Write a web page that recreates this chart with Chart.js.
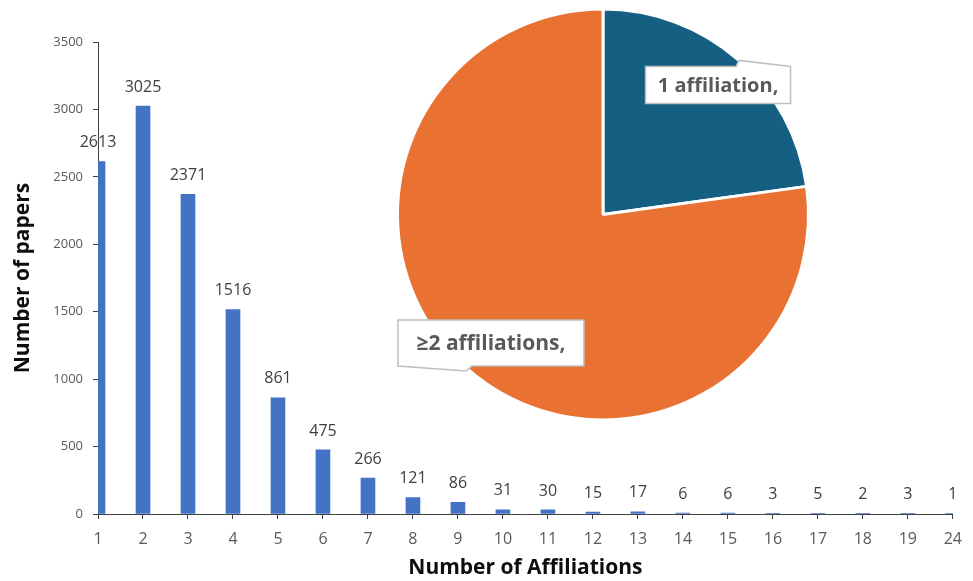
<!DOCTYPE html>
<html>
<head>
<meta charset="utf-8">
<script src="https://cdn.jsdelivr.net/npm/chart.js@4/dist/chart.umd.min.js"></script>
<style>
  html, body { margin: 0; padding: 0; background: #ffffff; }
  #wrap { position: relative; width: 973px; height: 581px; overflow: hidden; }
  #bars { position: absolute; left: 0; top: 0; }
  #pie { position: absolute; left: 389px; top: 0; }
</style>
</head>
<body>
<div id="wrap">
  <canvas id="bars" width="973" height="581"></canvas>
  <canvas id="pie" width="428" height="429"></canvas>
</div>
<script>
// Number of affiliations per paper (category axis)
const affiliationCounts = ['1','2','3','4','5','6','7','8','9','10','11','12','13','14','15','16','17','18','19','24'];
// Number of papers with that many affiliations
const paperCounts = [2613, 3025, 2371, 1516, 861, 475, 266, 121, 86, 31, 30, 15, 17, 6, 6, 3, 5, 2, 3, 1];
// Value axis ticks
const yTickMax = 3500;
const yTickStep = 500;
// Share of papers: single affiliation vs. two or more
const pieLabels = ['1 affiliation,', '\u22652 affiliations,'];
const pieValues = [2613, 8840];

const FONT = "'Open Sans', 'DejaVu Sans', sans-serif";
Chart.defaults.font.family = FONT;

// Value labels above every bar
const barValueLabels = {
  id: 'barValueLabels',
  afterDatasetsDraw(chart) {
    const ctx = chart.ctx;
    const meta = chart.getDatasetMeta(0);
    ctx.save();
    ctx.font = '16px ' + FONT;
    ctx.fillStyle = '#404040';
    ctx.textAlign = 'center';
    ctx.textBaseline = 'middle';
    meta.data.forEach((bar, i) => {
      const v = chart.data.datasets[0].data[i];
      ctx.fillText(String(v), bar.x, bar.y - 19);
    });
    ctx.restore();
  }
};

new Chart(document.getElementById('bars'), {
  type: 'bar',
  data: {
    labels: affiliationCounts,
    datasets: [{
      data: paperCounts,
      backgroundColor: '#4472C4',
      borderWidth: 0,
      barThickness: 14
    }]
  },
  options: {
    responsive: false,
    animation: false,
    events: [],
    layout: { padding: { top: 42, right: 11, left: 0, bottom: 0 } },
    plugins: { legend: { display: false }, tooltip: { enabled: false } },
    scales: {
      x: {
        offset: false,
        grid: { display: true, drawOnChartArea: false, drawTicks: true, tickLength: 5, color: '#404040', offset: false },
        border: { display: true, color: '#404040', width: 1 },
        ticks: { color: '#595959', font: { size: 16 }, padding: 11, maxRotation: 0, autoSkip: false },
        title: { display: true, text: 'Number of Affiliations', color: '#0d0d0d', font: { size: 21, weight: 'bold' }, padding: { top: 0, bottom: 0 } },
        afterFit(scale) { scale.height = 67; }
      },
      y: {
        min: 0,
        max: yTickMax,
        grid: { display: true, drawOnChartArea: false, drawTicks: true, tickLength: 5, color: '#404040' },
        border: { display: true, color: '#404040', width: 1 },
        ticks: { stepSize: yTickStep, color: '#595959', font: { size: 13 }, padding: 10, callback: (v) => String(v) },
        title: { display: true, text: 'Number of papers', color: '#0d0d0d', font: { size: 21, weight: 'bold' }, padding: { top: 10, bottom: 0 } },
        afterFit(scale) { scale.width = 98; }
      }
    }
  },
  plugins: [barValueLabels]
});

// Callout boxes placed at each slice's mid-angle
const pieCallouts = {
  id: 'pieCallouts',
  afterDatasetsDraw(chart) {
    const ctx = chart.ctx;
    const meta = chart.getDatasetMeta(0);
    const styles = [
      { font: 'bold 20px ' + FONT, w: 145, h: 37, pointer: 'top', dx: 3, dy: -1 },
      { font: 'bold 21px ' + FONT, w: 186, h: 46, pointer: 'bottom', dx: 0, dy: 0 }
    ];
    meta.data.forEach((arc, i) => {
      const p = arc.getProps(['x', 'y', 'startAngle', 'endAngle', 'outerRadius'], true);
      const mid = (p.startAngle + p.endAngle) / 2;
      const r = p.outerRadius * 0.83;
      const s = styles[i];
      const cx = p.x + Math.cos(mid) * r + s.dx;
      const cy = p.y + Math.sin(mid) * r + s.dy;
      const l = cx - s.w / 2, rgt = cx + s.w / 2, t = cy - s.h / 2, b = cy + s.h / 2;
      ctx.save();
      ctx.beginPath();
      if (s.pointer === 'top') {
        ctx.moveTo(l, t);
        ctx.lineTo(cx + 18, t);
        ctx.lineTo(cx + 21, t - 6);
        ctx.lineTo(rgt, t);
        ctx.lineTo(rgt, b);
        ctx.lineTo(l, b);
      } else {
        ctx.moveTo(l, t);
        ctx.lineTo(rgt, t);
        ctx.lineTo(rgt, b);
        ctx.lineTo(l + 74, b);
        ctx.lineTo(l + 68, b + 5);
        ctx.lineTo(l, b);
      }
      ctx.closePath();
      ctx.fillStyle = '#ffffff';
      ctx.fill();
      ctx.strokeStyle = '#BFBFBF';
      ctx.lineWidth = 1.5;
      ctx.stroke();
      ctx.font = s.font;
      ctx.fillStyle = '#595959';
      ctx.textAlign = 'center';
      ctx.textBaseline = 'middle';
      ctx.fillText(chart.data.labels[i], cx, cy + 1);
      ctx.restore();
    });
  }
};

new Chart(document.getElementById('pie'), {
  type: 'pie',
  data: {
    labels: pieLabels,
    datasets: [{
      data: pieValues,
      backgroundColor: ['#156082', '#E97132'],
      borderColor: '#ffffff',
      borderWidth: 3
    }]
  },
  options: {
    responsive: false,
    animation: false,
    events: [],
    layout: { padding: 7 },
    plugins: { legend: { display: false }, tooltip: { enabled: false } }
  },
  plugins: [pieCallouts]
});
</script>
</body>
</html>
